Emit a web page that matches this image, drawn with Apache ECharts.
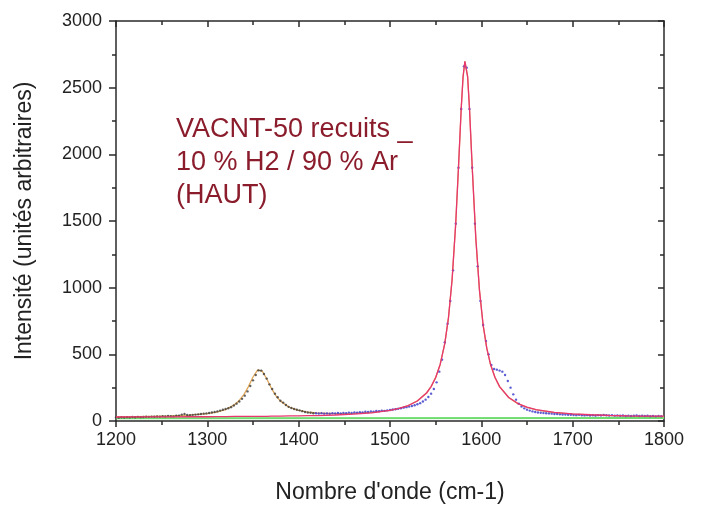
<!DOCTYPE html>
<html>
<head>
<meta charset="utf-8">
<script src="https://cdn.jsdelivr.net/npm/echarts@6/dist/echarts.min.js"></script>
<style>
html,body{margin:0;padding:0;background:#fff;}
#chart{width:702px;height:510px;}
</style>
</head>
<body>
<div id="chart"></div>
<script>
// x tick range
const xMin = 1200, xMax = 1800, xStep = 100;
const yMin = 0, yMax = 3000, yStep = 500;

// measured spectrum, part 1 (black dots)
const blackX = [1200,1203,1206,1209,1212,1215,1218,1221,1224,1227,1230,1233,1236,1239,1242,1245,1248,1251,1254,1257,1260,1263,1266,1269,1272,1275,1278,1281,1284,1287,1290,1293,1296,1299,1302,1305,1308,1311,1314,1317,1320,1323,1326,1329,1332,1335,1338,1341,1344,1347,1350,1353,1356,1359,1362,1365,1368,1371,1374,1377,1380,1383,1386,1389,1392,1395,1398,1401,1404,1407,1410,1413,1416];
const blackY = [27,25,28,26,29,27,30,28,31,29,30,32,31,33,32,34,33,36,34,37,36,35,39,40,48,52,45,44,46,48,50,52,55,57,60,64,68,72,78,84,90,96,104,116,130,146,166,190,222,262,305,345,380,378,352,318,275,240,205,178,152,138,120,106,98,90,84,80,74,68,64,62,58];

// measured spectrum, part 2 (blue dots)
const blueX = [1419,1422,1425,1428,1431,1434,1437,1440,1443,1446,1449,1452,1455,1458,1461,1464,1467,1470,1473,1476,1479,1482,1485,1488,1491,1494,1497,1500,1503,1506,1509,1512,1515,1518,1521,1524,1527,1530,1533,1536,1539,1542,1545,1548,1551,1554,1557,1560,1563,1566,1569,1572,1575,1578,1581,1584,1587,1590,1593,1596,1599,1602,1605,1608,1611,1614,1617,1620,1623,1626,1629,1632,1635,1638,1641,1644,1647,1650,1653,1656,1659,1662,1665,1668,1671,1674,1677,1680,1683,1686,1689,1692,1695,1698,1701,1704,1707,1710,1713,1716,1719,1722,1725,1728,1731,1734,1737,1740,1743,1746,1749,1752,1755,1758,1761,1764,1767,1770,1773,1776,1779,1782,1785,1788,1791,1794,1797];
const blueY = [58,56,59,55,57,54,58,56,60,57,61,59,63,60,64,62,66,64,69,67,72,70,75,73,78,76,80,82,86,88,92,96,100,104,108,113,118,126,134,146,160,180,205,240,290,370,460,590,730,900,1130,1480,1900,2340,2660,2650,2340,1900,1480,1160,900,720,600,500,420,390,385,378,370,345,300,250,200,160,130,108,95,85,78,72,68,64,62,60,58,57,55,53,52,50,49,48,46,47,45,44,46,43,42,44,41,43,40,44,42,45,43,41,44,40,42,39,41,38,40,37,39,41,38,40,37,39,36,38,35,37,36];

// fitted curves
const fitX = [1200,1220,1240,1260,1280,1300,1310,1320,1330,1335,1340,1345,1350,1355,1357,1360,1365,1370,1375,1380,1390,1400,1410,1420,1440,1460,1480,1500,1510,1520,1530,1540,1545,1550,1555,1560,1564,1568,1572,1575,1578,1580,1582,1583,1585,1587,1590,1594,1598,1602,1606,1610,1615,1620,1630,1640,1650,1660,1680,1700,1720,1740,1760,1780,1800];
const totalFitY = [31,32,35,38,44,55,67,86,123,154,198,258,330,381,387,375,317,247,190,149,102,79,67,60,55,57,64,80,95,116,151,210,258,325,426,581,773,1060,1486,1904,2347,2581,2697,2697,2581,2347,1904,1365,977,717,544,425,325,257,175,130,102,84,63,52,45,40,37,35,33];
const gFitY = [30,31,31,31,32,32,33,33,34,34,34,34,35,35,35,35,35,36,36,37,38,39,40,41,45,51,61,79,94,116,150,210,258,326,426,582,773,1061,1487,1905,2348,2582,2698,2698,2582,2348,1905,1366,978,718,545,426,326,258,176,131,104,86,65,53,47,42,39,37,36];

// baseline
const baseX = [1200, 1800];
const baseY = [20, 22];

const noteText = 'VACNT-50 recuits _\n10 % H2 / 90 % Ar\n(HAUT)';
const xTitle = "Nombre d'onde (cm-1)";
const yTitle = 'Intensité (unités arbitraires)';

const zip = (xs, ys) => xs.map((x, i) => [x, ys[i]]);
const FONT = "'Liberation Sans', Arial, sans-serif";
const axisCol = '#2a2a2a';
const plain = v => String(v);

const chart = echarts.init(document.getElementById('chart'), null, {renderer: 'canvas'});
const commonX = {
  type: 'value', min: xMin, max: xMax, interval: xStep,
  splitLine: {show: false},
  axisLine: {show: true, onZero: false, lineStyle: {color: axisCol, width: 1.5}},
};
const commonY = {
  type: 'value', min: yMin, max: yMax, interval: yStep,
  splitLine: {show: false},
  axisLine: {show: true, onZero: false, lineStyle: {color: axisCol, width: 1.5}},
};
chart.setOption({
  backgroundColor: '#ffffff',
  animation: false,
  grid: {left: 116, right: 38, top: 21, bottom: 89, containLabel: false},
  xAxis: [
    Object.assign({}, commonX, {
      position: 'bottom',
      name: xTitle, nameLocation: 'middle', nameGap: 60,
      nameTextStyle: {fontFamily: FONT, fontSize: 23, color: '#222'},
      axisTick: {show: true, inside: false, length: 6, lineStyle: {color: axisCol, width: 1.5}},
      minorTick: {show: true, splitNumber: 2, length: 4, lineStyle: {color: axisCol, width: 1.5}},
      axisLabel: {fontFamily: FONT, fontSize: 18, color: '#222', margin: 10, formatter: plain}
    }),
    Object.assign({}, commonX, {
      position: 'top',
      axisTick: {show: true, inside: true, length: 6, lineStyle: {color: axisCol, width: 1.5}},
      minorTick: {show: true, splitNumber: 2, length: 4, lineStyle: {color: axisCol, width: 1.5}},
      axisLabel: {show: false}
    })
  ],
  yAxis: [
    Object.assign({}, commonY, {
      position: 'left',
      name: yTitle, nameLocation: 'middle', nameGap: 80, nameRotate: 90,
      nameTextStyle: {fontFamily: FONT, fontSize: 23, color: '#222'},
      axisTick: {show: true, inside: false, length: 7, lineStyle: {color: axisCol, width: 1.5}},
      minorTick: {show: true, splitNumber: 2, length: 4, lineStyle: {color: axisCol, width: 1.5}},
      axisLabel: {fontFamily: FONT, fontSize: 18, color: '#222', margin: 14, formatter: plain}
    }),
    Object.assign({}, commonY, {
      position: 'right',
      axisTick: {show: true, inside: true, length: 6, lineStyle: {color: axisCol, width: 1.5}},
      minorTick: {show: true, splitNumber: 2, length: 4, lineStyle: {color: axisCol, width: 1.5}},
      axisLabel: {show: false}
    })
  ],
  graphic: [{
    type: 'text', left: 176, top: 113, z: 100,
    style: {text: noteText, fontFamily: FONT, fontSize: 27, lineHeight: 33, fill: '#8a1c2c'}
  }],
  series: [
    {type: 'line', name: 'baseline', data: zip(baseX, baseY), showSymbol: false,
     lineStyle: {color: '#6fdc6f', width: 2}, z: 2},
    {type: 'line', name: 'total fit', data: zip(fitX, totalFitY), showSymbol: false,
     lineStyle: {color: '#e0a85a', width: 1.3}, z: 3},
    {type: 'scatter', name: 'data1', data: zip(blackX, blackY), symbol: 'circle', symbolSize: 2.4,
     itemStyle: {color: '#3a3a3a'}, z: 4},
    {type: 'scatter', name: 'data2', data: zip(blueX, blueY), symbol: 'circle', symbolSize: 2.4,
     itemStyle: {color: '#3434c8'}, z: 4},
    {type: 'line', name: 'G fit', data: zip(fitX, gFitY), showSymbol: false,
     lineStyle: {color: '#e8366e', width: 1.3}, z: 5}
  ]
});
</script>
</body>
</html>
